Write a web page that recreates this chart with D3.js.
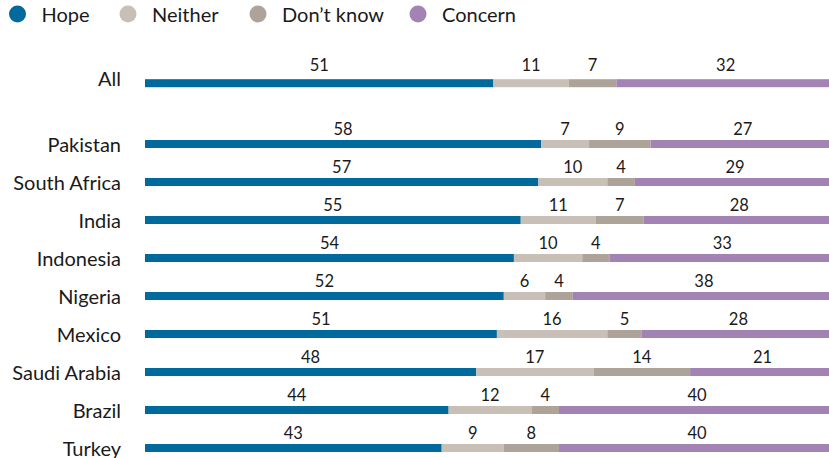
<!DOCTYPE html>
<html>
<head>
<meta charset="utf-8">
<script src="https://cdn.jsdelivr.net/npm/d3@7"></script>
<style>
  html, body { margin: 0; padding: 0; background: #fff; }
  svg { display: block; font-family: Lato, "Open Sans", sans-serif; }
</style>
</head>
<body>
<svg id="chart" width="829" height="458"></svg>
<script>
// Survey responses by country (percent)
const categories = ["All", "Pakistan", "South Africa", "India", "Indonesia", "Nigeria", "Mexico", "Saudi Arabia", "Brazil", "Turkey"];
const seriesNames = ["Hope", "Neither", "Don\u2019t know", "Concern"];
const hope     = [51, 58, 57, 55, 54, 52, 51, 48, 44, 43];
const neither  = [11, 7, 10, 11, 10, 6, 16, 17, 12, 9];
const dontKnow = [7, 9, 4, 7, 4, 4, 5, 14, 4, 8];
const concern  = [32, 27, 29, 28, 33, 38, 28, 21, 40, 40];
const colors = ["#006a9c", "#c8bfb6", "#aea398", "#a283b4"];

const rows = categories.map((c, i) => {
  const vals = [hope[i], neither[i], dontKnow[i], concern[i]];
  return { name: c, vals, total: d3.sum(vals), index: i };
});

const svg = d3.select("#chart");
const left = 145, right = 835, barH = 8;

// Country rows are evenly spaced; the "All" row sits above with a wider gap
const yRow = d3.scaleLinear().domain([1, 9]).range([144, 448]);
const yPos = i => i === 0 ? yRow(-0.6) : yRow(i);

// Legend
const legendX = [17.5, 128, 258, 418];
const legend = svg.append("g");
seriesNames.forEach((s, k) => {
  const g = legend.append("g").attr("transform", `translate(${legendX[k]},14)`);
  g.append("circle").attr("r", 8.5).attr("fill", colors[k]);
  g.append("text").attr("x", 24).attr("y", 7.5).attr("font-size", 20)
    .attr("fill", "#1a1a1a").text(s);
});

// Rows
rows.forEach(r => {
  const x = d3.scaleLinear().domain([0, r.total]).range([left, right]);
  const cy = yPos(r.index);
  const isAll = r.index === 0;
  const g = svg.append("g");
  g.append("text").attr("x", 121).attr("y", cy + (isAll ? 3 : 7.5)).attr("text-anchor", "end")
    .attr("font-size", 20).attr("fill", "#1a1a1a").text(r.name);
  let acc = 0;
  r.vals.forEach((v, k) => {
    const x0 = x(acc), x1 = x(acc + v);
    g.append("rect").attr("x", x0).attr("y", cy - barH / 2)
      .attr("width", x1 - x0).attr("height", barH).attr("fill", colors[k]);
    g.append("text").attr("x", (x0 + x1) / 2).attr("y", cy - (isAll ? 12.3 : 9))
      .attr("text-anchor", "middle").attr("font-size", 16.5).attr("fill", "#1a1a1a").text(v);
    acc += v;
  });
});
</script>
</body>
</html>
